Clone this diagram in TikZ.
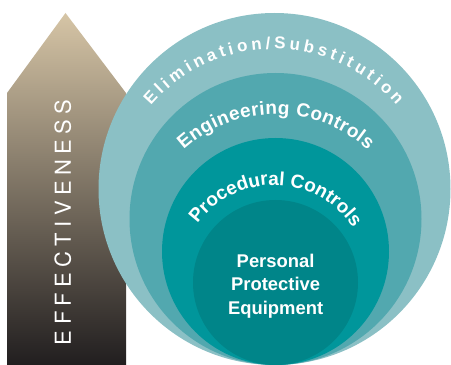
\documentclass[tikz,border=0pt]{standalone}
\usepackage{fontspec}
\setmainfont{Liberation Sans}
\newfontfamily\thinfont{TeX Gyre Heros}
\usepackage{tikz}
\usetikzlibrary{decorations.text,calc}

\definecolor{ringA}{RGB}{139,192,197}
\definecolor{ringB}{RGB}{82,168,175}
\definecolor{ringC}{RGB}{0,150,155}
\definecolor{ringD}{RGB}{0,133,137}
\definecolor{arrowtop}{RGB}{214,197,166}
\definecolor{arrowmid}{RGB}{128,120,110}
\definecolor{arrowbot}{RGB}{33,30,31}

\newcommand{\effectfont}{\thinfont\fontsize{22}{24}\selectfont\color{white}}
\newcommand{\elimfont}{\bfseries\fontsize{17}{20}\selectfont\color{white}}
\newcommand{\ringfont}{\bfseries\fontsize{19}{22}\selectfont\color{white}}
\newcommand{\ppefont}{\bfseries\fontsize{18.4}{23.3}\selectfont}

\begin{document}
\begin{tikzpicture}[x=1pt,y=1pt,
    arctext/.style={decorate,decoration={text along path,text align={fit to path},text={#1}}}]
  \useasboundingbox (0,0) rectangle (451,365);
  % arrow
  \shade[top color=arrowtop,middle color=arrowmid,bottom color=arrowbot] (7,0) -- (7,272) -- (65.5,352) -- (126,272) -- (126,0) -- cycle;
  \path[arctext={|\effectfont|EFFECTIVENESS}] (71,20) -- (71,265);
  % rings
  \fill[ringA] (274.5,176) circle (176);
  \fill[ringB] (275.5,146) circle (146);
  \fill[ringC] (275.5,113.5) circle (113.5);
  \fill[ringD] (275.5,82.5) circle (82.5);
  % curved labels
  \path[arctext={|\elimfont|Elimination/Substitution}] ($(273.7,154.5)+(139.5:161.5)$) arc[start angle=139.5,end angle=40.5,radius=161.5];
  \path[arctext={|\ringfont|Engineering Controls}] ($(275.8,113.6)+(132.2:137)$) arc[start angle=132.2,end angle=47.8,radius=137];
  \path[arctext={|\ringfont|Procedural Controls}] ($(274,85.5)+(144:94.5)$) arc[start angle=144,end angle=35.5,radius=94.5];
  \node[align=center,text=white,font=\ppefont,inner sep=0] (ppe) at (275.6,79) {Personal\\Protective\\Equipment};
\end{tikzpicture}
\end{document}
